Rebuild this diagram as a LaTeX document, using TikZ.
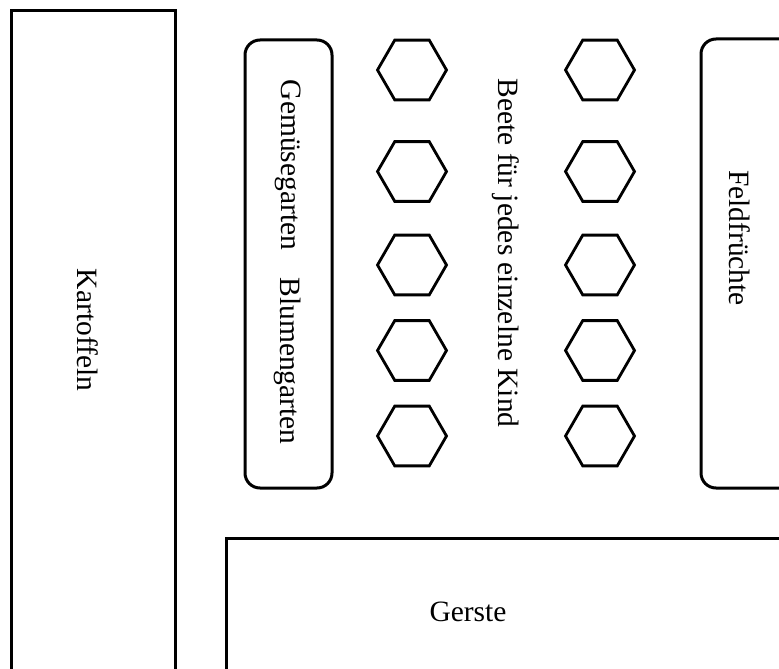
\documentclass[tikz,border=0pt]{standalone}
\usepackage{fontspec}
\setmainfont{Liberation Serif}
\usetikzlibrary{shapes.geometric}
\begin{document}
\begin{tikzpicture}[x=1pt,y=-1pt,
  plot/.style={draw=black,line width=3pt,inner sep=0pt},
  bed/.style={plot,rounded corners=15pt},
  hexa/.style={draw=black,line width=2.8pt,regular polygon,regular polygon sides=6,minimum size=69pt,inner sep=0pt},
  lbl/.style={font=\fontsize{29.5}{34}\selectfont,inner sep=0pt},
  vlbl/.style={lbl,rotate=-90}]
\clip (0,0) rectangle (779,669);
\fill[white] (0,0) rectangle (779,669);
% plots
\node[plot,minimum width=163.5pt,minimum height=700pt] (kart) at (93.25,360.5) {};
\node[bed,minimum width=87pt,minimum height=448pt] (gem) at (288.5,264) {};
\node[bed,minimum width=120pt,minimum height=449pt] (feld) at (761,263.5) {};
\node[plot,minimum width=600pt,minimum height=200pt] (gerste) at (526,638) {};
% hexagons
\foreach \i/\y in {1/70,2/171.5,3/265,4/350.5,5/436}{
  \node[hexa] (hl\i) at (412,\y) {};
  \node[hexa] (hr\i) at (600,\y) {};
}
% labels
\node[vlbl] (tkart) at (88,330) {Kartoffeln};
\node[vlbl] (tgem) at (288,165) {Gemüsegarten};
\node[vlbl] (tblu) at (288,361) {Blumengarten};
\node[vlbl] (tbeete) at (506,253) {Beete für jedes einzelne Kind};
\node[vlbl] (tfeld) at (740,238) {Feldfrüchte};
\node[lbl] (tgerste) at (468,612) {Gerste};
\end{tikzpicture}
\end{document}
